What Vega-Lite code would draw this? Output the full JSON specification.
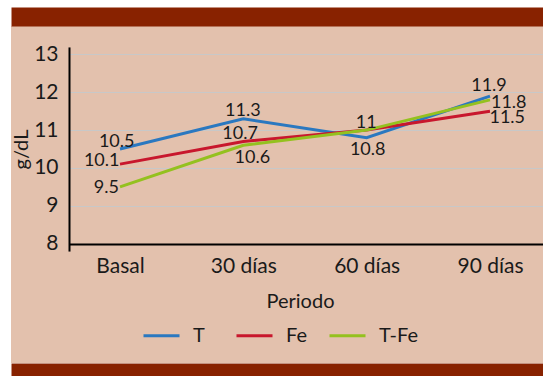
{
  "$schema": "https://vega.github.io/schema/vega-lite/v6.json",
  "width": 532,
  "height": 337,
  "autosize": {"type": "none"},
  "padding": {"left": 11, "top": 26, "right": 0, "bottom": 13},
  "background": "#ffffff",
  "config": {
    "view": {"fill": "#e3c1ad", "stroke": null},
    "font": "Lato",
    "text": {"font": "Lato", "fontSize": 18, "color": "#1a1a1a"}
  },
  "data": {
    "values": [
      {"periodo": "Basal", "serie": "T", "valor": 10.5},
      {"periodo": "30 días", "serie": "T", "valor": 11.3},
      {"periodo": "60 días", "serie": "T", "valor": 10.8},
      {"periodo": "90 días", "serie": "T", "valor": 11.9},
      {"periodo": "Basal", "serie": "Fe", "valor": 10.1},
      {"periodo": "30 días", "serie": "Fe", "valor": 10.7},
      {"periodo": "60 días", "serie": "Fe", "valor": 11},
      {"periodo": "90 días", "serie": "Fe", "valor": 11.5},
      {"periodo": "Basal", "serie": "T-Fe", "valor": 9.5},
      {"periodo": "30 días", "serie": "T-Fe", "valor": 10.6},
      {"periodo": "60 días", "serie": "T-Fe", "valor": 11},
      {"periodo": "90 días", "serie": "T-Fe", "valor": 11.8}
    ]
  },
  "encoding": {
    "y": {
      "field": "valor",
      "type": "quantitative",
      "scale": {"domain": [7.8, 13.2], "range": [225.06, 20.94], "nice": false, "zero": false},
      "axis": {
        "title": "g/dL",
        "values": [8, 9, 10, 11, 12, 13],
        "format": "d",
        "offset": -58,
        "grid": false,
        "domainColor": "#000000",
        "domainWidth": 2,
        "tickSize": -474,
        "tickColor": {"condition": {"test": "datum.value === 8", "value": "#000000"}, "value": "#c8c8c8"},
        "tickWidth": {"condition": {"test": "datum.value === 8", "value": 2}, "value": 1},
        "labelPadding": 485,
        "labelFont": "Lato",
        "labelFontSize": 21,
        "labelColor": "#1a1a1a",
        "labelBaseline": "middle",
        "titleFont": "Lato",
        "titleFontSize": 20,
        "titleFontWeight": "normal",
        "titleColor": "#1a1a1a",
        "titlePadding": 2
      }
    }
  },
  "layer": [
    {
      "mark": {"type": "line", "strokeWidth": 3},
      "encoding": {
        "x": {
          "field": "periodo",
          "type": "nominal",
          "sort": ["Basal", "30 días", "60 días", "90 días"],
          "scale": {"type": "point", "padding": 0.6568, "align": 0.6728},
          "axis": {
            "orient": "bottom",
            "offset": 6.5,
            "domainColor": "#882200",
            "domainWidth": 13,
            "ticks": false,
            "grid": false,
            "labelAngle": 0,
            "labelPadding": -96.8,
            "labelBaseline": "alphabetic",
            "labelFont": "Lato",
            "labelFontSize": 21,
            "labelColor": "#1a1a1a",
            "title": "Periodo",
            "titleX": 289,
            "titleY": -61.8,
            "titleBaseline": "alphabetic",
            "titleFont": "Lato",
            "titleFontSize": 20,
            "titleFontWeight": "normal",
            "titleColor": "#1a1a1a"
          }
        },
        "color": {
          "field": "serie",
          "type": "nominal",
          "sort": ["T", "Fe", "T-Fe"],
          "scale": {"domain": ["T", "Fe", "T-Fe"], "range": ["#2a78c0", "#c8172d", "#94c11f"]},
          "legend": {
            "orient": "bottom",
            "direction": "horizontal",
            "title": null,
            "symbolType": "stroke",
            "symbolSize": 1296,
            "symbolStrokeWidth": 3,
            "labelFont": "Lato",
            "labelFontSize": 20,
            "labelColor": "#1a1a1a",
            "labelOffset": 12,
            "columnPadding": -3,
            "gridAlign": "all",
            "padding": 131,
            "offset": -185
          }
        }
      }
    },
    {
      "transform": [{"filter": "(datum.serie === 'T' && datum.periodo === '30 días') || (datum.serie === 'Fe' && datum.periodo === '60 días')"}],
      "mark": {"type": "text", "align": "center", "baseline": "alphabetic", "dx": -0.5, "dy": -2.3},
      "encoding": {
        "x": {
          "field": "periodo", "type": "nominal", "sort": ["Basal", "30 días", "60 días", "90 días"],
          "axis": {"orient": "top", "offset": 9.5, "domainColor": "#882200", "domainWidth": 19, "ticks": false, "labels": false, "grid": false, "title": null}
        },
        "text": {"field": "valor", "type": "quantitative", "format": "~g"}
      }
    },
    {
      "transform": [{"filter": "datum.serie === 'T' && datum.periodo === '90 días'"}],
      "mark": {"type": "text", "align": "center", "baseline": "alphabetic", "dx": -1, "dy": -4.6},
      "encoding": {
        "x": {"field": "periodo", "type": "nominal", "sort": ["Basal", "30 días", "60 días", "90 días"], "axis": null},
        "text": {"field": "valor", "type": "quantitative", "format": "~g"}
      }
    },
    {
      "transform": [{"filter": "(datum.serie === 'T' && datum.periodo === 'Basal') || (datum.serie === 'Fe' && datum.periodo === '30 días')"}],
      "mark": {"type": "text", "align": "center", "baseline": "alphabetic", "dx": -3.3, "dy": -2},
      "encoding": {
        "x": {"field": "periodo", "type": "nominal", "sort": ["Basal", "30 días", "60 días", "90 días"], "axis": null},
        "text": {"field": "valor", "type": "quantitative", "format": "~g"}
      }
    },
    {
      "transform": [{"filter": "datum.serie === 'T' && datum.periodo === '60 días'"}],
      "mark": {"type": "text", "align": "center", "baseline": "alphabetic", "dx": 1, "dy": 17.3},
      "encoding": {
        "x": {"field": "periodo", "type": "nominal", "sort": ["Basal", "30 días", "60 días", "90 días"], "axis": null},
        "text": {"field": "valor", "type": "quantitative", "format": "~g"}
      }
    },
    {
      "transform": [{"filter": "datum.serie === 'T-Fe' && datum.periodo === '30 días'"}],
      "mark": {"type": "text", "align": "center", "baseline": "alphabetic", "dx": 9, "dy": 18},
      "encoding": {
        "x": {"field": "periodo", "type": "nominal", "sort": ["Basal", "30 días", "60 días", "90 días"], "axis": null},
        "text": {"field": "valor", "type": "quantitative", "format": "~g"}
      }
    },
    {
      "transform": [{"filter": "datum.serie === 'Fe' && datum.periodo === 'Basal'"}],
      "mark": {"type": "text", "align": "right", "baseline": "alphabetic", "dx": -0.5, "dy": 2},
      "encoding": {
        "x": {"field": "periodo", "type": "nominal", "sort": ["Basal", "30 días", "60 días", "90 días"], "axis": null},
        "text": {"field": "valor", "type": "quantitative", "format": "~g"}
      }
    },
    {
      "transform": [{"filter": "datum.serie === 'T-Fe' && datum.periodo === 'Basal'"}],
      "mark": {"type": "text", "align": "right", "baseline": "alphabetic", "dx": -1, "dy": 6},
      "encoding": {
        "x": {"field": "periodo", "type": "nominal", "sort": ["Basal", "30 días", "60 días", "90 días"], "axis": null},
        "text": {"field": "valor", "type": "quantitative", "format": "~g"}
      }
    },
    {
      "transform": [{"filter": "datum.serie === 'T-Fe' && datum.periodo === '90 días'"}],
      "mark": {"type": "text", "align": "left", "baseline": "alphabetic", "dx": 1, "dy": 7.8},
      "encoding": {
        "x": {"field": "periodo", "type": "nominal", "sort": ["Basal", "30 días", "60 días", "90 días"], "axis": null},
        "text": {"field": "valor", "type": "quantitative", "format": "~g"}
      }
    },
    {
      "transform": [{"filter": "datum.serie === 'Fe' && datum.periodo === '90 días'"}],
      "mark": {"type": "text", "align": "left", "baseline": "alphabetic", "dx": -0.5, "dy": 12},
      "encoding": {
        "x": {"field": "periodo", "type": "nominal", "sort": ["Basal", "30 días", "60 días", "90 días"], "axis": null},
        "text": {"field": "valor", "type": "quantitative", "format": "~g"}
      }
    }
  ],
  "resolve": {"axis": {"x": "independent"}}
}
